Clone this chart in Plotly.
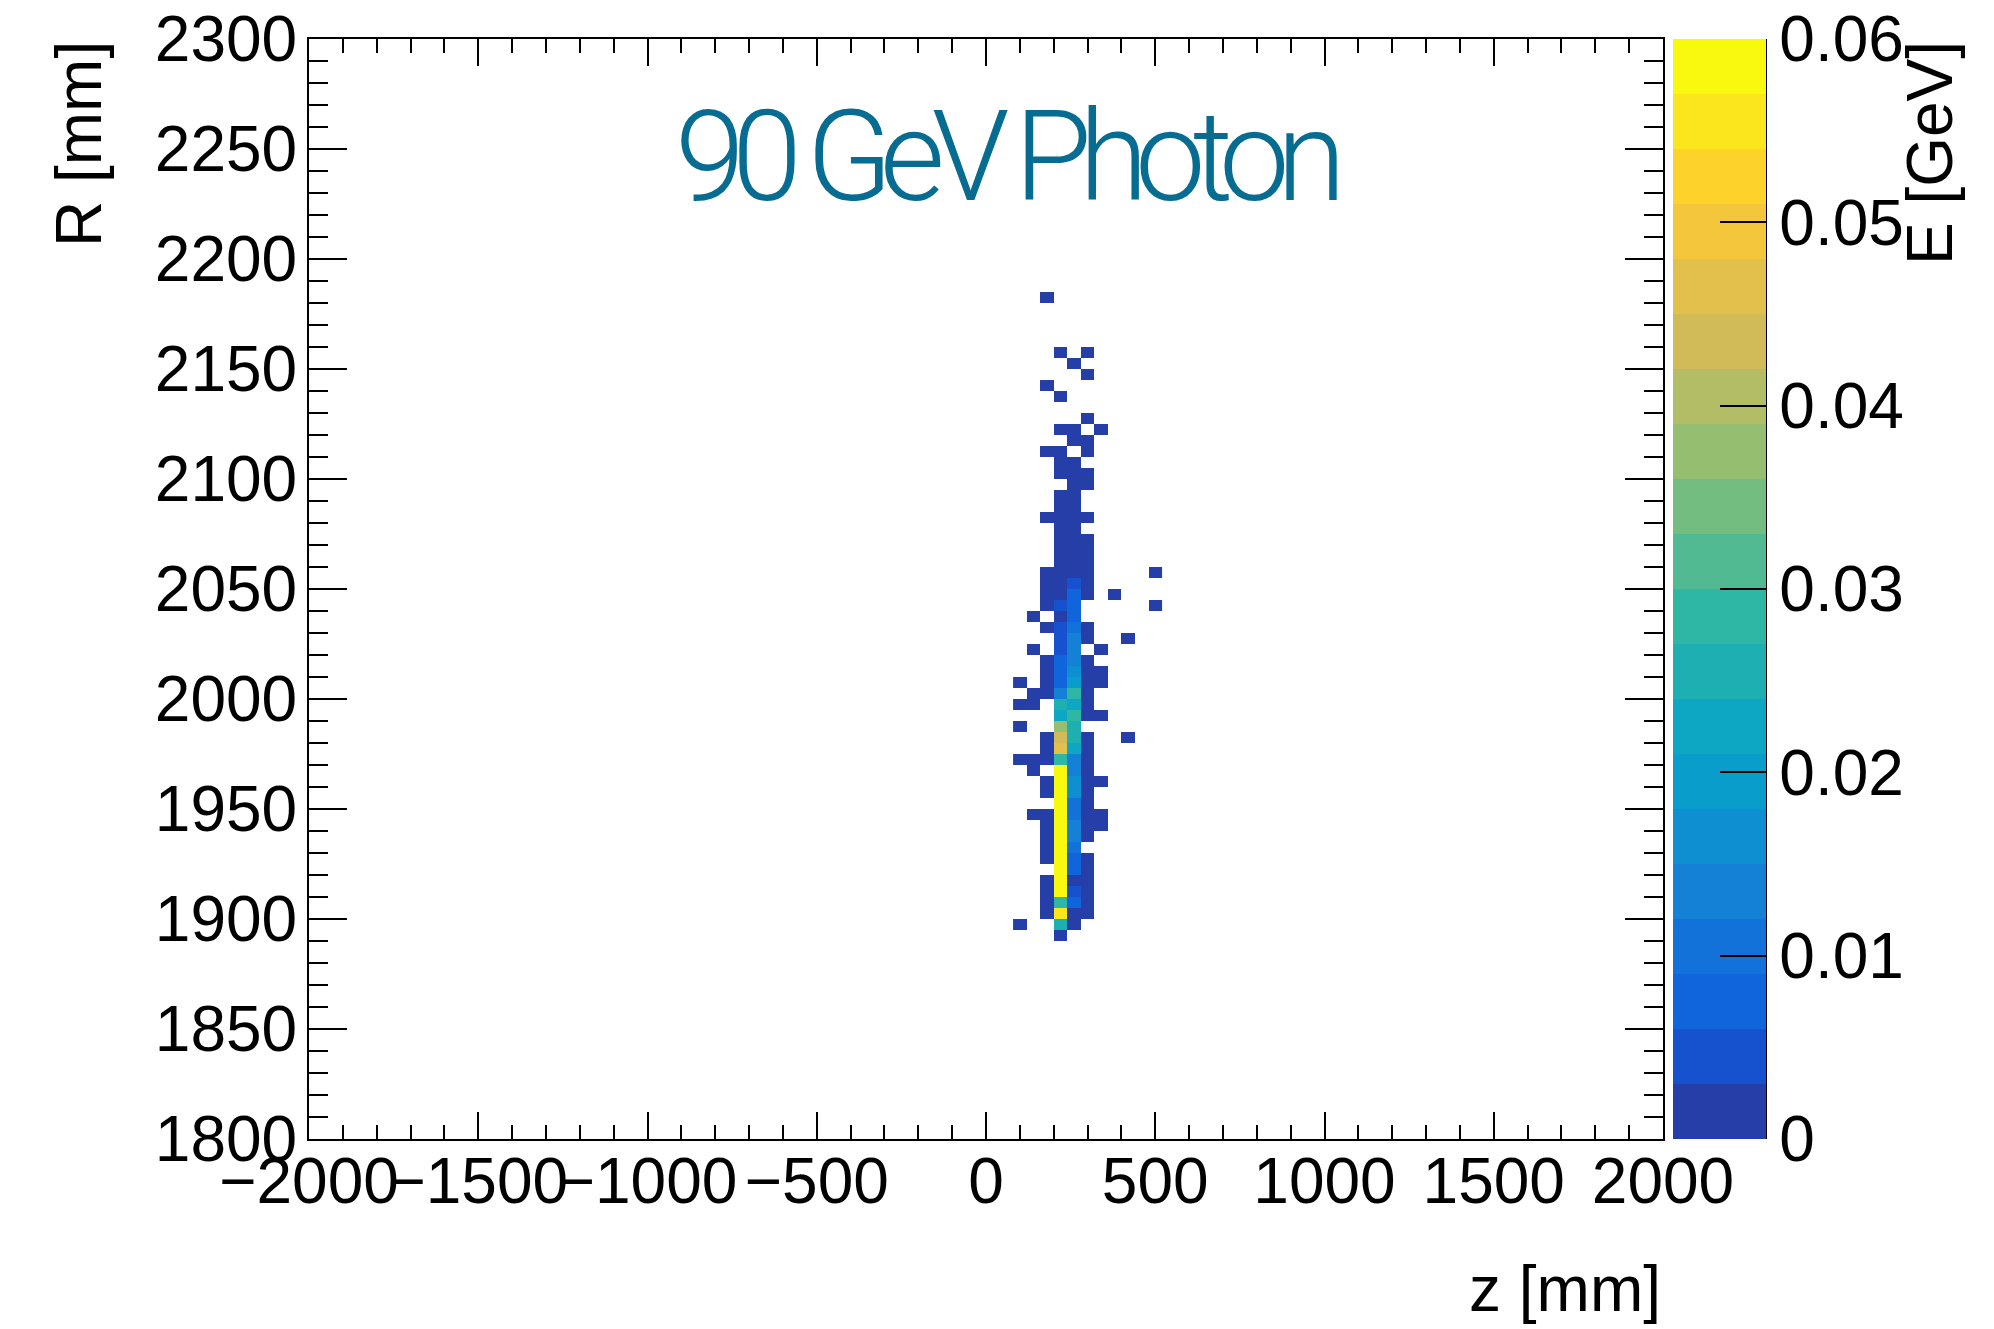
import math
import plotly.graph_objects as go

# ---- hit map of a 90 GeV photon shower: deposited energy per (z, R) bin ----
# bin centres along z (40 mm bins) and R (5 mm bins)
z_centers = [100, 140, 180, 220, 260, 300, 340, 380, 420, 460, 500]
r_centers = [2182.5, 2177.5, 2172.5, 2167.5, 2162.5, 2157.5, 2152.5, 2147.5, 2142.5, 2137.5,
             2132.5, 2127.5, 2122.5, 2117.5, 2112.5, 2107.5, 2102.5, 2097.5, 2092.5, 2087.5,
             2082.5, 2077.5, 2072.5, 2067.5, 2062.5, 2057.5, 2052.5, 2047.5, 2042.5, 2037.5,
             2032.5, 2027.5, 2022.5, 2017.5, 2012.5, 2007.5, 2002.5, 1997.5, 1992.5, 1987.5,
             1982.5, 1977.5, 1972.5, 1967.5, 1962.5, 1957.5, 1952.5, 1947.5, 1942.5, 1937.5,
             1932.5, 1927.5, 1922.5, 1917.5, 1912.5, 1907.5, 1902.5, 1897.5, 1892.5]

# energy [GeV] per bin, one row per R bin (top to bottom), columns follow z_centers; 0 = empty bin
energy = [
    [0, 0, 0.0015, 0, 0, 0, 0, 0, 0, 0, 0],
    [0, 0, 0, 0, 0, 0, 0, 0, 0, 0, 0],
    [0, 0, 0, 0, 0, 0, 0, 0, 0, 0, 0],
    [0, 0, 0, 0, 0, 0, 0, 0, 0, 0, 0],
    [0, 0, 0, 0, 0, 0, 0, 0, 0, 0, 0],
    [0, 0, 0, 0.0015, 0, 0.0015, 0, 0, 0, 0, 0],
    [0, 0, 0, 0, 0.0015, 0, 0, 0, 0, 0, 0],
    [0, 0, 0, 0, 0, 0.0015, 0, 0, 0, 0, 0],
    [0, 0, 0.0015, 0, 0, 0, 0, 0, 0, 0, 0],
    [0, 0, 0, 0.0015, 0, 0, 0, 0, 0, 0, 0],
    [0, 0, 0, 0, 0, 0, 0, 0, 0, 0, 0],
    [0, 0, 0, 0, 0, 0.0015, 0, 0, 0, 0, 0],
    [0, 0, 0, 0.0015, 0.0015, 0, 0.0015, 0, 0, 0, 0],
    [0, 0, 0, 0, 0.0015, 0.0015, 0, 0, 0, 0, 0],
    [0, 0, 0.0015, 0.0015, 0, 0.0015, 0, 0, 0, 0, 0],
    [0, 0, 0, 0.0015, 0.0015, 0, 0, 0, 0, 0, 0],
    [0, 0, 0, 0.0015, 0.0015, 0.0015, 0, 0, 0, 0, 0],
    [0, 0, 0, 0, 0.0015, 0.0015, 0, 0, 0, 0, 0],
    [0, 0, 0, 0.0015, 0.0015, 0, 0, 0, 0, 0, 0],
    [0, 0, 0, 0.0015, 0.0015, 0, 0, 0, 0, 0, 0],
    [0, 0, 0.0015, 0.0015, 0.0015, 0.0015, 0, 0, 0, 0, 0],
    [0, 0, 0, 0.0015, 0.0015, 0, 0, 0, 0, 0, 0],
    [0, 0, 0, 0.0015, 0.0015, 0.0015, 0, 0, 0, 0, 0],
    [0, 0, 0, 0.0015, 0.0015, 0.0015, 0, 0, 0, 0, 0],
    [0, 0, 0, 0.0015, 0.0015, 0.0015, 0, 0, 0, 0, 0],
    [0, 0, 0.0015, 0.0015, 0.0015, 0.0015, 0, 0, 0, 0, 0.0015],
    [0, 0, 0.0015, 0.0015, 0.0045, 0.0015, 0, 0, 0, 0, 0],
    [0, 0, 0.0015, 0.0015, 0.0085, 0.0015, 0, 0.0015, 0, 0, 0],
    [0, 0, 0.0015, 0.0045, 0.0085, 0, 0, 0, 0, 0, 0.0015],
    [0, 0.0015, 0, 0.0020, 0.0085, 0, 0, 0, 0, 0, 0],
    [0, 0, 0.0015, 0.0045, 0.0105, 0.0015, 0, 0, 0, 0, 0],
    [0, 0, 0, 0.0050, 0.0125, 0.0015, 0, 0, 0.0015, 0, 0],
    [0, 0.0015, 0, 0.0050, 0.0125, 0, 0.0015, 0, 0, 0, 0],
    [0, 0, 0.0015, 0.0065, 0.0145, 0.0015, 0, 0, 0, 0, 0],
    [0, 0, 0.0015, 0.0065, 0.0175, 0.0015, 0.0015, 0, 0, 0, 0],
    [0.0015, 0, 0.0015, 0.0065, 0.0205, 0.0015, 0.0015, 0, 0, 0, 0],
    [0, 0.0015, 0.0015, 0.0125, 0.0285, 0.0015, 0, 0, 0, 0, 0],
    [0.0015, 0.0015, 0, 0.0255, 0.0215, 0.0015, 0, 0, 0, 0, 0],
    [0, 0, 0, 0.0215, 0.0285, 0.0015, 0.0015, 0, 0, 0, 0],
    [0.0015, 0, 0, 0.0380, 0.0260, 0, 0, 0, 0, 0, 0],
    [0, 0, 0.0015, 0.0440, 0.0260, 0.0015, 0, 0, 0.0015, 0, 0],
    [0, 0, 0.0015, 0.0465, 0.0215, 0.0015, 0, 0, 0, 0, 0],
    [0.0015, 0.0015, 0.0015, 0.0285, 0.0135, 0.0015, 0, 0, 0, 0, 0],
    [0, 0.0015, 0, 0.0600, 0.0135, 0.0015, 0, 0, 0, 0, 0],
    [0, 0, 0.0015, 0.0600, 0.0175, 0.0015, 0.0015, 0, 0, 0, 0],
    [0, 0, 0.0015, 0.0600, 0.0175, 0.0015, 0, 0, 0, 0, 0],
    [0, 0, 0, 0.0600, 0.0095, 0.0015, 0, 0, 0, 0, 0],
    [0, 0.0015, 0.0015, 0.0600, 0.0095, 0.0015, 0.0015, 0, 0, 0, 0],
    [0, 0, 0.0015, 0.0600, 0.0135, 0.0015, 0.0015, 0, 0, 0, 0],
    [0, 0, 0.0015, 0.0600, 0.0135, 0.0015, 0, 0, 0, 0, 0],
    [0, 0, 0.0015, 0.0600, 0.0105, 0, 0, 0, 0, 0, 0],
    [0, 0, 0.0015, 0.0600, 0.0085, 0.0015, 0, 0, 0, 0, 0],
    [0, 0, 0, 0.0600, 0.0085, 0.0015, 0, 0, 0, 0, 0],
    [0, 0, 0.0015, 0.0600, 0.0015, 0.0015, 0, 0, 0, 0, 0],
    [0, 0, 0.0015, 0.0600, 0.0045, 0.0015, 0, 0, 0, 0, 0],
    [0, 0, 0.0015, 0.0285, 0.0075, 0.0015, 0, 0, 0, 0, 0],
    [0, 0, 0.0015, 0.0560, 0.0015, 0.0015, 0, 0, 0, 0, 0],
    [0.0015, 0, 0, 0.0255, 0.0015, 0, 0, 0, 0, 0, 0],
    [0, 0, 0, 0.0015, 0, 0, 0, 0, 0, 0, 0],
]

z_ticks = [-2000, -1500, -1000, -500, 0, 500, 1000, 1500, 2000]
r_ticks = [1800, 1850, 1900, 1950, 2000, 2050, 2100, 2150, 2200, 2250, 2300]
e_ticks = [0, 0.01, 0.02, 0.03, 0.04, 0.05, 0.06]
e_ticklabels = ["0", "0.01", "0.02", "0.03", "0.04", "0.05", "0.06"]
e_max = 0.06
n_contours = 20

# ---- ROOT "bird" palette, 255 gradient colours, sampled into 20 contour bands ----
bird_stops = [0.0000, 0.1250, 0.2500, 0.3750, 0.5000, 0.6250, 0.7500, 0.8750, 1.0000]
bird_red = [0.2082, 0.0592, 0.0780, 0.0232, 0.1802, 0.5301, 0.8186, 0.9956, 0.9764]
bird_green = [0.1664, 0.3599, 0.5041, 0.6419, 0.7178, 0.7492, 0.7328, 0.7862, 0.9832]
bird_blue = [0.5293, 0.8684, 0.8385, 0.7914, 0.6425, 0.4662, 0.3499, 0.1968, 0.0539]


def gradient_table(n_colors=255):
    table = []
    for g in range(1, len(bird_stops)):
        k = int(math.floor(n_colors * bird_stops[g]) - math.floor(n_colors * bird_stops[g - 1]))
        for c in range(k):
            t = c / k
            rgb = [ch[g - 1] + t * (ch[g] - ch[g - 1]) for ch in (bird_red, bird_green, bird_blue)]
            table.append(tuple(int(round(v * 255)) for v in rgb))
    return table


palette = gradient_table()
band_colors = []
for i in range(n_contours):
    idx = min(int((i + 0.99) * len(palette) / n_contours), len(palette) - 1)
    band_colors.append("rgb(%d,%d,%d)" % palette[idx])

colorscale = []
for i, col in enumerate(band_colors):
    colorscale.append([i / n_contours, col])
    colorscale.append([(i + 1) / n_contours, col])

# empty bins stay white
z_grid = [[v if v > 0 else None for v in row] for row in energy]

font_main = "Liberation Sans, Arial, Helvetica, sans-serif"
tick_size = 64

# plot frame in pixels
W, H = 1994, 1329
L, R_, T, B = 309, 1663, 39, 1139
pw, ph = R_ - L, B - T

cb_left = 1673
cb_thick = 93
cb_x = (cb_left - L) / pw

fig = go.Figure(go.Heatmap(
    x=z_centers,
    y=r_centers,
    z=z_grid,
    colorscale=colorscale,
    zmin=0,
    zmax=e_max,
    hoverongaps=False,
    colorbar=dict(
        x=cb_x, xanchor="left", y=0.5, yanchor="middle",
        len=1, lenmode="fraction",
        thickness=cb_thick, thicknessmode="pixels",
        xpad=0, ypad=0, outlinewidth=0,
        tickmode="array", tickvals=e_ticks, ticktext=e_ticklabels,
        ticks="inside", ticklen=46, tickwidth=2, tickcolor="black",
        tickfont=dict(family=font_main, size=tick_size, color="black"),
    ),
))

axis_common = dict(
    ticks="inside", tickwidth=2, tickcolor="black",
    showline=True, linecolor="black", linewidth=2, mirror="allticks",
    showgrid=False, zeroline=False, tickangle=0, automargin=False,
    tickfont=dict(family=font_main, size=tick_size, color="black"),
)

fig.update_layout(
    width=W, height=H,
    margin=dict(l=L, r=W - R_, t=T, b=H - B, pad=0, autoexpand=False),
    paper_bgcolor="white", plot_bgcolor="white",
    font=dict(family=font_main, size=tick_size, color="black"),
    xaxis=dict(range=[-2000, 2000], tickmode="array", tickvals=z_ticks,
               ticklen=27, ticklabelstandoff=-15,
               minor=dict(dtick=100, tick0=-2000, ticks="inside", ticklen=14, tickwidth=2,
                          tickcolor="black", showgrid=False),
               **axis_common),
    yaxis=dict(range=[1800, 2300], tickmode="array", tickvals=r_ticks,
               ticklen=38, ticklabelstandoff=-3,
               minor=dict(dtick=10, tick0=1800, ticks="inside", ticklen=19, tickwidth=2,
                          tickcolor="black", showgrid=False),
               **axis_common),
    showlegend=False,
)

# z-axis line on the right edge of the colour bar
cb_right = cb_x + cb_thick / pw
fig.add_shape(type="line", xref="paper", yref="paper",
              x0=cb_right, x1=cb_right, y0=0, y1=1,
              line=dict(color="black", width=2))

# axis titles
fig.add_annotation(text="z [mm]", xref="paper", yref="paper",
                   x=1, xanchor="right", y=(B - 1289) / ph, yanchor="middle",
                   showarrow=False, font=dict(family=font_main, size=tick_size, color="black"))
fig.add_annotation(text="R [mm]", xref="paper", yref="paper",
                   x=(79 - L) / pw, xanchor="center", y=1, yanchor="top", textangle=-90,
                   showarrow=False, font=dict(family=font_main, size=tick_size, color="black"))
fig.add_annotation(text="E [GeV]", xref="paper", yref="paper",
                   x=(1930 - L) / pw, xanchor="center", y=1, yanchor="top", textangle=-90,
                   showarrow=False, font=dict(family=font_main, size=tick_size, color="black"))

# in-frame label, set tight in a light sans face
fig.add_annotation(text='<span style="letter-spacing:-13px">90 GeV Photon</span>',
                   xref="paper", yref="paper",
                   x=(1006 - L) / pw, xanchor="center", y=(B - 157) / ph, yanchor="middle",
                   showarrow=False,
                   font=dict(family="Roboto, Liberation Sans, sans-serif",
                             size=126, weight=300, color="#066c91"))

fig.write_html("out.html")
